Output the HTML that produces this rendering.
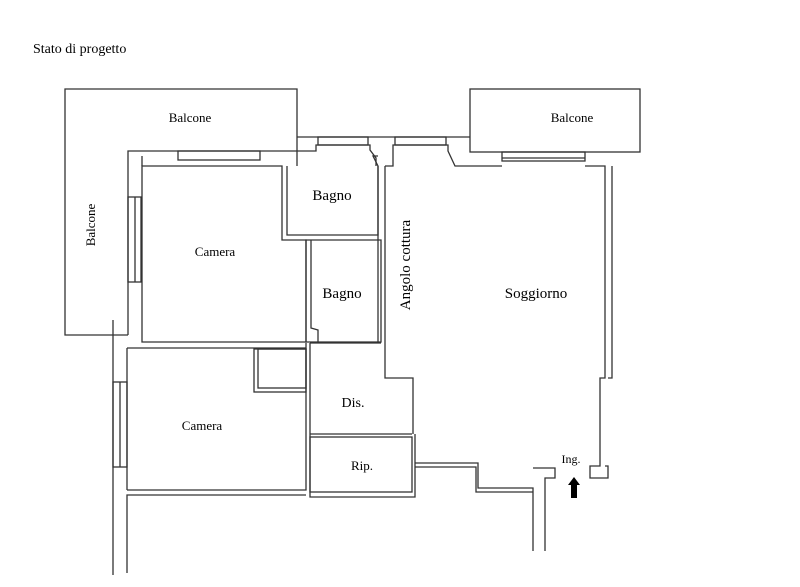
<!DOCTYPE html>
<html><head><style>
body{margin:0;background:#fff}
svg{display:block}
text{font-family:"Liberation Serif",serif;fill:#000}
</style></head><body>
<svg width="800" height="587" viewBox="0 0 800 587" xmlns="http://www.w3.org/2000/svg">
<g fill="none" stroke="#333" stroke-width="1.3">
<path d="M128,335 H65 V89 H297 V166"/>
<path d="M128,335 V151 H297"/>
<rect x="178" y="151" width="82" height="9"/>
<rect x="128" y="197" width="13" height="85"/>
<line x1="135" y1="197" x2="135" y2="282"/>
<path d="M142,342 V166 H282 V240 H306 V342 Z"/>
<path d="M142,166 V156"/>
<path d="M287,166 V235 H378 V166 L373,156 H378"/>
<path d="M297,137 H470"/>
<path d="M297,151 H316 V145 H370 V150 L376,158 V166"/>
<rect x="318" y="137" width="50" height="8"/>
<rect x="395" y="137" width="51" height="8"/>
<path d="M393,151 V145 H448 V151 L455,166 H502"/>
<path d="M306,240 H381 V342 H306 Z"/>
<path d="M311,240 V328 L318,330 V342"/>
<path d="M385,166 H393 V151"/>
<path d="M385,166 V378 H413 V434"/>
<path d="M378,166 V342"/>
<rect x="470" y="89" width="170" height="63"/>
<rect x="502" y="152" width="83" height="9"/>
<line x1="502" y1="158" x2="585" y2="158"/>
<path d="M585,166 H605 V378 H600 V466 H590 V478 H608 V466 H605"/>
<path d="M612,166 V378 H608"/>
<path d="M113,320 V575"/>
<path d="M127,573 V495 H306"/>
<path d="M127,348 H306"/>
<path d="M127,490 H306 V343"/>
<path d="M127,348 V490"/>
<rect x="113" y="382" width="14" height="85"/>
<line x1="120" y1="382" x2="120" y2="467"/>
<rect x="254" y="349" width="52" height="43"/>
<rect x="258" y="349" width="48" height="39"/>
<path d="M310,343 V497 H415 V434"/>
<path d="M310,343 H381"/>
<path d="M310,434 H412"/>
<rect x="310" y="437" width="102" height="55"/>
<path d="M415,463 H478 V488 H533 V551"/>
<path d="M415,467 H476 V492 H533"/>
<path d="M533,468 H555 V478 H545 V551"/>
</g>
<path d="M574,477 L568,485 H571 V498 H577 V485 H580 Z" fill="#000"/>
<text x="33" y="53" font-size="14">Stato di progetto</text>
<text x="190" y="122" font-size="13" text-anchor="middle">Balcone</text>
<text x="572" y="122" font-size="13" text-anchor="middle">Balcone</text>
<text transform="translate(95,225) rotate(-90)" font-size="13" text-anchor="middle">Balcone</text>
<text x="215" y="256" font-size="13" text-anchor="middle">Camera</text>
<text x="332" y="200" font-size="15" text-anchor="middle">Bagno</text>
<text x="342" y="298" font-size="15" text-anchor="middle">Bagno</text>
<text transform="translate(410,265) rotate(-90)" font-size="15" text-anchor="middle">Angolo cottura</text>
<text x="536" y="298" font-size="15" text-anchor="middle">Soggiorno</text>
<text x="202" y="430" font-size="13" text-anchor="middle">Camera</text>
<text x="353" y="407" font-size="14" text-anchor="middle">Dis.</text>
<text x="362" y="470" font-size="13" text-anchor="middle">Rip.</text>
<text x="571" y="463" font-size="12" text-anchor="middle">Ing.</text>
</svg>
</body></html>
